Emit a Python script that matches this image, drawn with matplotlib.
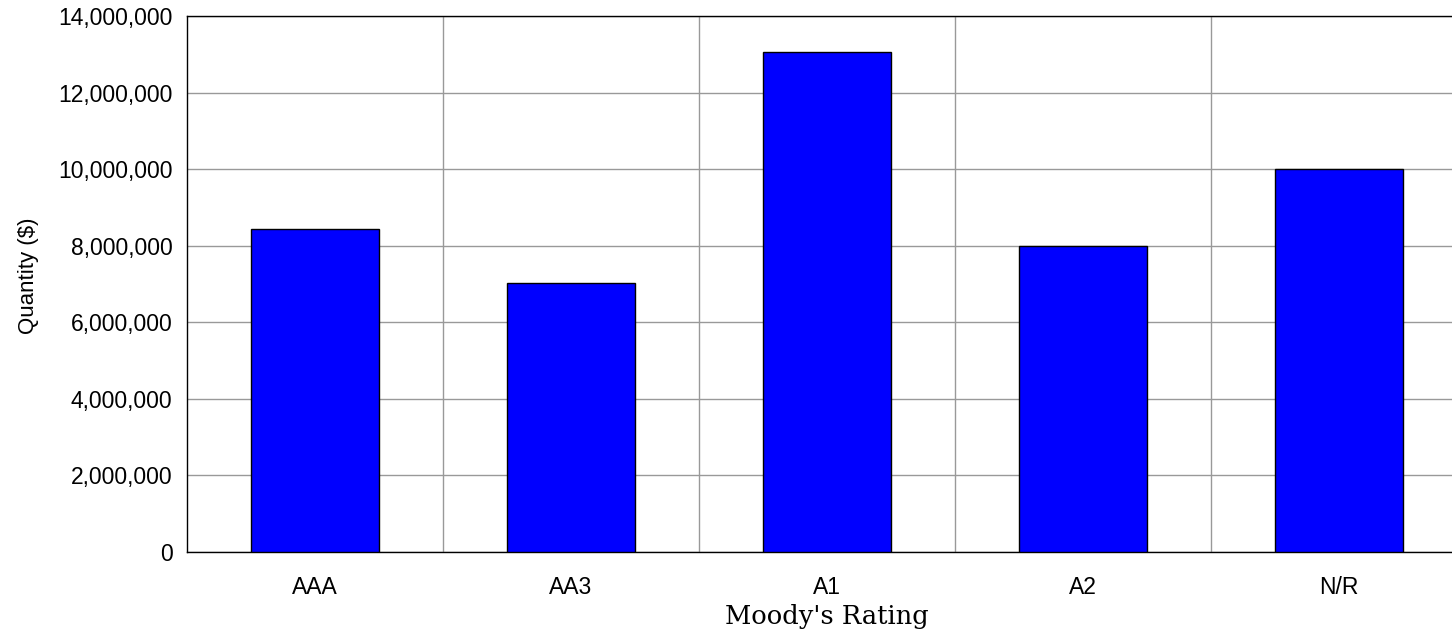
import numpy as np
import matplotlib.pyplot as plt
from matplotlib.ticker import FuncFormatter, FixedLocator

# данные
ratings = ['AAA', 'AA3', 'A1', 'A2', 'N/R']
quantity = [8440000, 7030000, 13060000, 8000000, 10000000]
yticks = [0, 2000000, 4000000, 6000000, 8000000, 10000000, 12000000, 14000000]

fig = plt.figure(figsize=(14.52, 6.33), dpi=100)
ax = fig.add_axes([187/1452, (633-552)/633, 1280/1452, 536/633])

x = np.arange(len(ratings))
ax.bar(x, quantity, width=0.5, color='#0000ff', edgecolor='black', linewidth=1, zorder=3)

ax.set_xlim(-0.5, len(ratings) - 0.5)
ax.set_ylim(0, 14000000)
ax.set_yticks(yticks)
ax.yaxis.set_major_formatter(FuncFormatter(lambda v, p: f'{int(v):,}'))
ax.set_xticks(x)
ax.set_xticklabels(ratings)
ax.xaxis.set_minor_locator(FixedLocator(x[:-1] + 0.5))

ax.grid(True, axis='y', which='major', color='#999999', linewidth=1, zorder=0)
ax.grid(True, axis='x', which='minor', color='#999999', linewidth=1, zorder=0)
ax.tick_params(axis='both', which='both', length=0, labelsize=16.5)
ax.tick_params(axis='y', pad=10.5)
ax.tick_params(axis='x', pad=17)
for lab in ax.get_xticklabels() + ax.get_yticklabels():
    lab.set_family('Liberation Sans')

ax.spines['right'].set_visible(False)
for s in ['left', 'top', 'bottom']:
    ax.spines[s].set_color('black')
    ax.spines[s].set_linewidth(1)

ax.set_ylabel('Quantity ($)', fontsize=16, family='Liberation Sans')
ax.yaxis.set_label_coords(-148/1280, 0.515)
ax.set_xlabel("Moody's Rating", fontsize=18.5, family='DejaVu Serif', labelpad=4)

fig.savefig('out.png', dpi=100)
